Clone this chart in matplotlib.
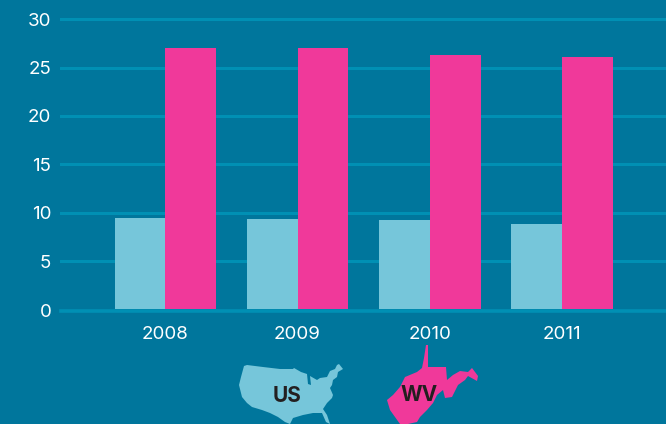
import matplotlib
matplotlib.use('Agg')
import matplotlib.pyplot as plt
from matplotlib.patches import Polygon
import numpy as np

years = ['2008', '2009', '2010', '2011']
us_values = [9.5, 9.3, 9.2, 8.8]
wv_values = [27.0, 27.0, 26.3, 26.1]
y_ticks = [0, 5, 10, 15, 20, 25, 30]

# rough outlines for the two map icons, in picture pixels
us_shape = [(244, 366), (247, 365), (263, 367), (280, 369), (293, 369), (294, 368), (301, 372),
            (307, 374), (308, 384), (311, 385), (310, 376), (317, 380), (320, 378), (327, 377),
            (330, 371), (335, 369), (337, 365), (339, 364), (343, 369), (338, 372), (337, 377),
            (333, 380), (332, 385), (330, 388), (333, 395), (332, 398), (327, 403), (323, 409),
            (327, 415), (330, 424), (326, 422), (322, 413), (313, 413), (303, 415), (293, 418),
            (290, 424), (285, 422), (278, 417), (270, 413), (262, 410), (252, 407), (247, 403),
            (242, 397), (239, 385), (241, 377)]
wv_shape = [(426, 345), (428, 345), (428, 367), (446, 367), (447, 380), (453, 375), (460, 371),
            (468, 372), (472, 368), (478, 376), (477, 381), (468, 376), (465, 380), (458, 385),
            (452, 397), (445, 398), (443, 390), (437, 395), (433, 403), (427, 410), (420, 417),
            (417, 422), (408, 424), (400, 424), (395, 417), (390, 410), (387, 400), (393, 395),
            (400, 387), (405, 377), (417, 372), (422, 368), (424, 358)]

bg = '#00769C'
grid_col = '#0090B4'
us_col = '#76C6DA'
wv_col = '#F0399A'
text_col = '#FFFFFF'

W, H = 666, 424
plt.rcParams['font.family'] = ['Inter', 'DejaVu Sans']

# baseline sits a touch under zero and is thicker than the grid
base_y = -0.14

fig = plt.figure(figsize=(W / 100, H / 100), dpi=100, facecolor=bg)
ax = fig.add_axes([61 / W, 1 - 310.75 / H, (W - 61) / W, (310.75 - 19.3) / H], facecolor=bg)

x = np.arange(len(years))
bar_w = 0.384
ax.bar(x - bar_w / 2, us_values, bar_w, color=us_col, zorder=2)
ax.bar(x + bar_w / 2, wv_values, bar_w, color=wv_col, zorder=2)

for t in y_ticks[1:]:
    ax.axhline(t, color=grid_col, lw=2.2, zorder=1, clip_on=False)
ax.axhline(base_y, color=grid_col, lw=2.6, zorder=3, clip_on=False)

ax.set_xticks(x, years)
ax.set_yticks([base_y] + y_ticks[1:], y_ticks)
ax.set_xlim(-0.789, 3.787)
ax.set_ylim(base_y, 30)
ax.tick_params(axis='x', length=0, pad=11, labelsize=13.5, labelcolor=text_col)
ax.tick_params(axis='y', length=0, pad=7, labelsize=13.5, labelcolor=text_col)
for s in ax.spines.values():
    s.set_visible(False)

# map icons below the chart, drawn in pixel coordinates
over = fig.add_axes([0, 0, 1, 1], facecolor='none')
over.set_xlim(0, W)
over.set_ylim(H, 0)
over.axis('off')
over.add_patch(Polygon(us_shape, closed=True, color=us_col, lw=0))
over.add_patch(Polygon(wv_shape, closed=True, color=wv_col, lw=0))
over.text(287, 396, 'US', color='#231F20', fontsize=15, fontweight='bold', ha='center', va='center')
over.text(419.5, 395, 'WV', color='#231F20', fontsize=15, fontweight='bold', ha='center', va='center')

plt.savefig('out.png', dpi=100, facecolor=bg)
